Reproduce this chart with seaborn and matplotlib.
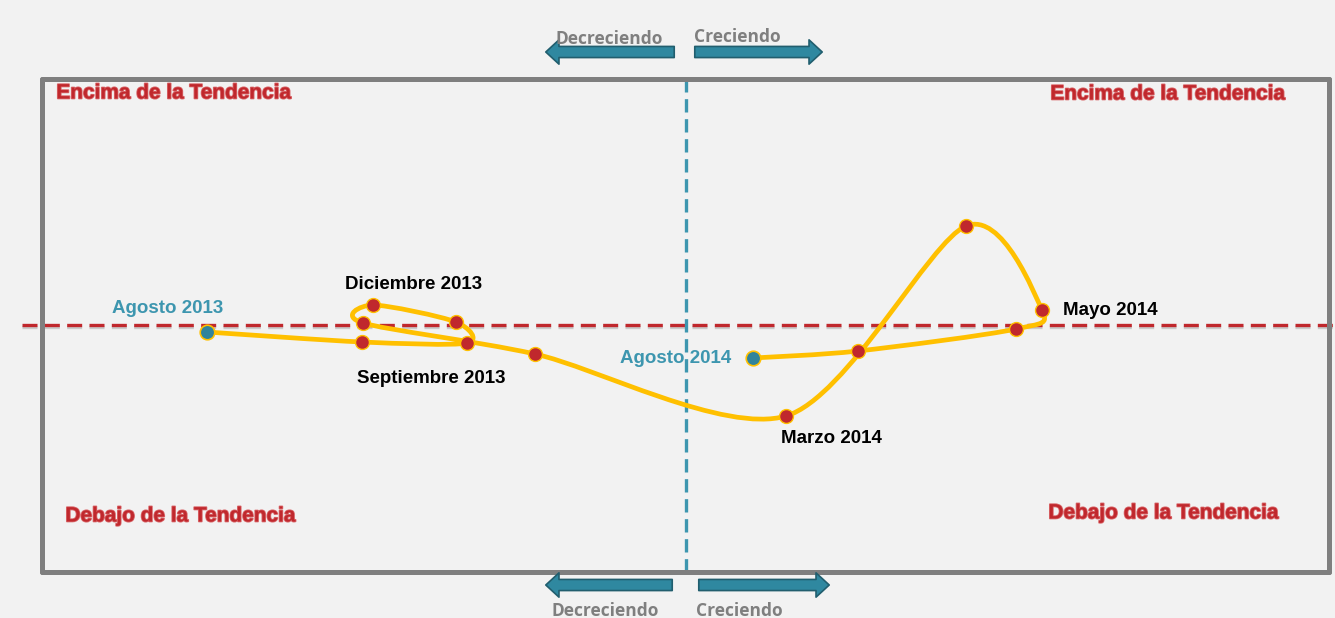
import numpy as np
import matplotlib
matplotlib.use("Agg")
import matplotlib.pyplot as plt
from matplotlib.path import Path
from matplotlib.patches import PathPatch
import matplotlib.patheffects as pe
import seaborn as sns

# ---------------- data ----------------
months = ["Agosto 2013", "Septiembre 2013", "Octubre 2013", "Noviembre 2013",
          "Diciembre 2013", "Enero 2014", "Febrero 2014", "Marzo 2014",
          "Abril 2014", "Mayo 2014", "Junio 2014", "Julio 2014", "Agosto 2014"]
growth = [-4.79, -3.24, -2.19, -2.30, -3.13, -3.23, -1.51, 1.00, 2.80, 3.56, 3.30, 1.72, 0.67]
trend_dev = [-0.07, -0.17, -0.18, 0.03, 0.20, 0.02, -0.29, -0.91, 0.99, 0.15, -0.04, -0.26, -0.33]
labelled = ["Septiembre 2013", "Diciembre 2013", "Marzo 2014", "Mayo 2014"]
endpoints = ["Agosto 2013", "Agosto 2014"]
quadrants = ["Encima de la Tendencia", "Encima de la Tendencia",
             "Debajo de la Tendencia", "Debajo de la Tendencia"]
dir_labels = ["Decreciendo", "Creciendo"]

# ---------------- style ----------------
sns.set_theme(style="white")
plt.rcParams["font.family"] = ["Liberation Sans", "DejaVu Sans"]

BG = "#F2F2F2"
YELLOW = "#FFC000"
RED = "#C0282D"
TEAL = "#3D96AF"
TEAL_DARK = "#31849B"
GRAY = "#7F7F7F"

W, H = 1335, 618
fig = plt.figure(figsize=(W / 100, H / 100), dpi=100, facecolor=BG)
L, T, R, B = 42, 79, 1329, 572
ax = fig.add_axes([L / W, (H - B) / H, (R - L) / W, (B - T) / H])
ax.set_facecolor(BG)
ax.set_xlim((L - 686) / 100, (R - 686) / 100)
ax.set_ylim((325 - B) / 100, (325 - T) / 100)
ax.set_xticks([])
ax.set_yticks([])
for s in ax.spines.values():
    s.set_color(GRAY)
    s.set_linewidth(3.6)
    s.set_capstyle("round")

# reference lines
ax.axhline(0, xmin=(22 - L) / (R - L), xmax=(1335 - L) / (R - L), color=RED, lw=2.4,
           ls=(0, (4.5, 2.2)), clip_on=False, zorder=2,
           path_effects=[pe.SimpleLineShadow(offset=(0, -1.5), shadow_color="gray", alpha=0.35),
                         pe.Normal()])
ax.axvline(0, color=TEAL, lw=2.4, ls=(0, (4, 2)), zorder=2)

# smooth curve (Catmull-Rom through the monthly points, drawn as Bezier path)
P = np.column_stack([growth, trend_dev])
ext = np.vstack([P[0], P, P[-1]])
verts = [tuple(P[0])]
codes = [Path.MOVETO]
k = 7.0
for i in range(1, len(ext) - 2):
    p0, p1, p2, p3 = ext[i - 1], ext[i], ext[i + 1], ext[i + 2]
    c1 = p1 + (p2 - p0) / k
    c2 = p2 - (p3 - p1) / k
    verts += [tuple(c1), tuple(c2), tuple(p2)]
    codes += [Path.CURVE4] * 3
ax.add_patch(PathPatch(Path(verts, codes), fc="none", ec=YELLOW, lw=3.4,
                       capstyle="round", joinstyle="round", zorder=3))

# markers
inner = [m not in endpoints for m in months]
sns.scatterplot(x=np.array(growth)[inner], y=np.array(trend_dev)[inner], ax=ax,
                s=100, color=RED, edgecolor=YELLOW, linewidth=1.0, zorder=4, legend=False)
ends = [m in endpoints for m in months]
sns.scatterplot(x=np.array(growth)[ends], y=np.array(trend_dev)[ends], ax=ax,
                s=110, color=TEAL_DARK, edgecolor=YELLOW, linewidth=1.2, zorder=4, legend=False)


def px(x, y):
    return (x - 686) / 100, (325 - y - 2) / 100


# month labels
label_pos = {"Septiembre 2013": (431, 377), "Diciembre 2013": (414, 283),
             "Marzo 2014": (831, 437), "Mayo 2014": (1110, 309)}
for m in labelled:
    ax.text(*px(*label_pos[m]), m, ha="center", va="center", fontsize=13.5,
            fontweight="bold", color="black", zorder=5)
end_pos = {"Agosto 2013": (168, 307), "Agosto 2014": (676, 357)}
for m in endpoints:
    ax.text(*px(*end_pos[m]), m, ha="center", va="center", fontsize=13.5,
            fontweight="bold", color=TEAL, zorder=5)

# quadrant labels
q_pos = [(174, 91), (1168, 92), (181, 514), (1164, 511)]
for q, (qx, qy) in zip(quadrants, q_pos):
    ax.text(*px(qx, qy), q, ha="center", va="center", fontsize=15, fontweight="bold",
            color=RED, zorder=5,
            path_effects=[pe.withStroke(linewidth=1.2, foreground="#D9676A")])

# direction arrows and labels
arrow_kw = dict(arrowstyle="simple,head_length=0.95,head_width=1.75,tail_width=0.8",
                fc="#2F88A0", ec="#215E6E", lw=1.2, mutation_scale=10)
for tail, tip, y in [(677, 543, 52), (692, 825, 52), (675, 543, 585), (696, 832, 585)]:
    fig.patches.append(matplotlib.patches.FancyArrowPatch(
        (tail, H - y), (tip, H - y), transform=None, **arrow_kw))

for txt, (tx, ty) in zip(dir_labels * 2, [(609, 39), (737, 37), (605, 611), (739, 611)]):
    fig.text(tx / W, 1 - ty / H, txt, ha="center", va="center", fontsize=12.5,
             fontweight="bold", color=GRAY, family=["Open Sans", "DejaVu Sans"])

fig.savefig("out.png", dpi=100, facecolor=BG)
